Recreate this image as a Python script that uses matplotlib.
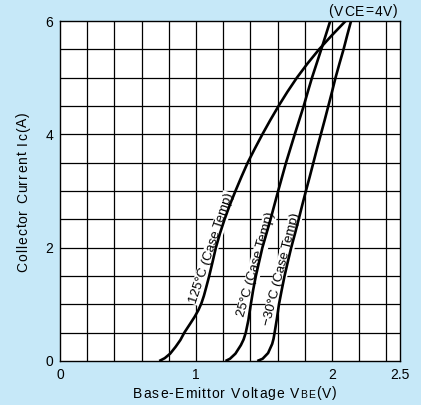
import matplotlib
matplotlib.use("Agg")
import matplotlib.pyplot as plt
from matplotlib.ft2font import FT2Font
from matplotlib.font_manager import findfont, FontProperties

plt.rcParams['font.family'] = ['Liberation Sans', 'DejaVu Sans']

# Data (VBE in V, Ic in A)
x125 = [0.73, 0.77, 0.81, 0.85, 0.885, 0.914, 0.955, 0.99, 1.018, 1.04, 1.058, 1.075, 1.097, 1.122, 1.146,
        1.176, 1.210, 1.248, 1.290, 1.334, 1.380, 1.433, 1.488, 1.546, 1.607, 1.672, 1.742, 1.82, 1.905,
        2.0, 2.10]
y125 = [0.0, 0.05, 0.13, 0.25, 0.37, 0.5, 0.65, 0.78, 0.9, 1.02, 1.15, 1.3, 1.5, 1.75, 2.0,
        2.25, 2.5, 2.75, 3.0, 3.25, 3.5, 3.75, 4.0, 4.25, 4.5, 4.75, 5.0, 5.25, 5.5,
        5.75, 6.0]

x25 = [1.217, 1.25, 1.29, 1.33, 1.35, 1.366, 1.385, 1.403, 1.42, 1.44, 1.464, 1.488, 1.518, 1.548, 1.576,
       1.604, 1.633, 1.662, 1.694, 1.726, 1.759, 1.792, 1.822, 1.853, 1.887, 1.921, 1.954, 1.987]
y25 = [0.0, 0.04, 0.13, 0.28, 0.38, 0.5, 0.72, 1.0, 1.25, 1.5, 1.75, 2.0, 2.25, 2.5, 2.75,
       3.0, 3.25, 3.5, 3.75, 4.0, 4.25, 4.5, 4.75, 5.0, 5.25, 5.5, 5.75, 6.0]

xm30 = [1.451, 1.49, 1.53, 1.56, 1.57, 1.578, 1.595, 1.61, 1.63, 1.651, 1.675, 1.70, 1.728, 1.755, 1.781,
        1.808, 1.836, 1.863, 1.89, 1.918, 1.946, 1.973, 2.0, 2.026, 2.055, 2.085, 2.112, 2.14]
ym30 = [0.0, 0.04, 0.14, 0.3, 0.39, 0.5, 0.75, 1.0, 1.25, 1.5, 1.75, 2.0, 2.25, 2.5, 2.75,
        3.0, 3.25, 3.5, 3.75, 4.0, 4.25, 4.5, 4.75, 5.0, 5.25, 5.5, 5.75, 6.0]

labels = ["125°C (Case Temp)", "25°C (Case Temp)", "\u221230°C (Case Temp)"]
label_pos = [(1.112, 1.99), (1.442, 1.70), (1.632, 1.62)]
label_rot = [71.5, 74.0, 75.5]

xticks = [0, 1, 2, 2.5]
xticklabels = ["0", "1", "2", "2.5"]
yticks = [0, 2, 4, 6]
yticklabels = ["0", "2", "4", "6"]

W, H = 421, 405
bg = "#c6e8f8"
fig = plt.figure(figsize=(W/100, H/100), dpi=100, facecolor=bg)
ax = fig.add_axes([60/W, 1-361/H, 340/W, 340/H])
ax.set_facecolor("white")

ax.set_xlim(0, 2.5)
ax.set_ylim(0, 6)

# grid
for gx in [i*0.2 for i in range(1, 13)]:
    ax.axvline(gx, color="black", lw=0.9, zorder=1)
for gy in [i*0.5 for i in range(1, 12)]:
    ax.axhline(gy, color="black", lw=0.9, zorder=1)

for xs, ys in [(x125, y125), (x25, y25), (xm30, ym30)]:
    ax.plot(xs, ys, color="black", lw=1.9, zorder=4, solid_capstyle="butt",
            solid_joinstyle="round")

for lab, (lx, ly), rot in zip(labels, label_pos, label_rot):
    ax.text(lx, ly, lab, rotation=rot, ha="center", va="center", rotation_mode="anchor",
            fontsize=9.5, zorder=3,
            bbox=dict(facecolor="white", edgecolor="none", pad=0.8))

ax.set_xticks(xticks)
ax.set_xticklabels(xticklabels)
ax.set_yticks(yticks)
ax.set_yticklabels(yticklabels)
ax.tick_params(length=0, labelsize=10, pad=5)
for s in ax.spines.values():
    s.set_color("black")
    s.set_linewidth(1.0)
    s.set_zorder(5)

# letter-spaced text helper
fpath = findfont(FontProperties(family="Liberation Sans"))


def advances(text, size):
    f = FT2Font(fpath)
    f.set_size(size, 100)
    return [f.load_char(ord(c)).linearHoriAdvance / 65536 for c in text]


def tracked(segs, center, base, target, vertical=False):
    chars = []
    for text, size in segs:
        chars += list(zip(text, [size]*len(text), advances(text, size)))
    natural = sum(a for _, _, a in chars)
    track = (target - natural) / (len(chars) - 1)
    off = 0.0
    for ch, size, a in chars:
        if vertical:
            ypx = center + target/2 - off
            fig.text(base/W, 1-ypx/H, ch, fontsize=size, rotation=90,
                     rotation_mode="anchor", ha="left", va="baseline")
        else:
            xpx = center - target/2 + off
            fig.text(xpx/W, 1-base/H, ch, fontsize=size, ha="left", va="baseline")
        off += a + track


tracked([("Base-Emittor Voltage V", 10), ("BE", 7.5), ("(V)", 10)], 235, 397.5, 204)
tracked([("Collector Current Ic(A)", 10)], 192, 27, 160, vertical=True)
tracked([("(VCE=4V)", 10)], 363, 15.5, 70)

fig.savefig("out.png", dpi=100, facecolor=bg)
